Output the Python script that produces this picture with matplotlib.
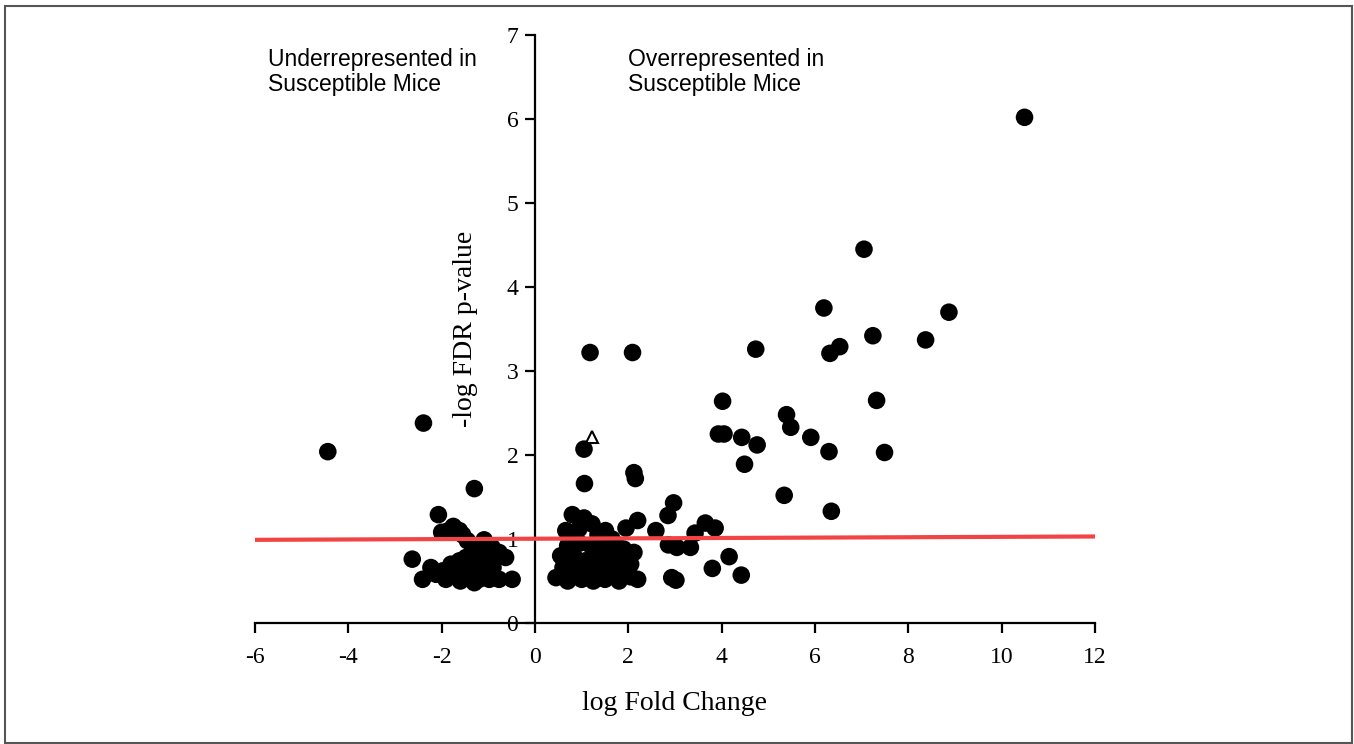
import matplotlib
matplotlib.use("Agg")
import matplotlib.pyplot as plt
from matplotlib.patches import Rectangle

plt.rcParams['axes.unicode_minus'] = False

# ---- data ----
fold_left = [-4.44, -2.39, -1.30, -2.07, -2.00, -1.85, -1.75, -1.62, -1.55, -1.45,
             -1.09, -1.20, -2.63, -0.63, -0.92, -0.77, -2.41, -2.23, -2.12, -1.98,
             -1.91, -1.80, -1.70, -1.62, -1.48, -1.50, -1.35, -1.38, -1.30, -1.22,
             -1.13, -1.05, -0.98, -0.90, -0.77, -0.49, -1.60, -1.20]
pval_left = [2.04, 2.38, 1.60, 1.29, 1.08, 1.10, 1.15, 1.10, 1.05, 0.98,
             0.99, 0.92, 0.76, 0.78, 0.90, 0.84, 0.52, 0.66, 0.58, 0.62,
             0.52, 0.70, 0.58, 0.74, 0.78, 0.54, 0.84, 0.64, 0.48, 0.70,
             0.58, 0.76, 0.52, 0.66, 0.52, 0.52, 0.50, 0.52]

fold_near = [1.05, 1.06, 2.12, 2.15, 0.80, 1.05, 1.22, 0.66, 0.94, 0.80,
             1.51, 1.95, 2.20, 2.59, 1.35, 1.65, 0.70, 0.95, 1.20, 1.45,
             1.75, 1.90, 2.12, 0.55, 0.85, 1.08, 1.32, 1.60, 1.85, 2.05,
             0.60, 0.90, 1.15, 1.40, 1.70, 1.95, 0.45, 0.70, 1.00, 1.25,
             1.50, 1.80, 2.05, 2.20, 0.75, 1.18, 2.09]
pval_near = [2.07, 1.66, 1.79, 1.72, 1.29, 1.25, 1.18, 1.10, 1.12, 1.06,
             1.10, 1.13, 1.22, 1.10, 1.05, 1.00, 0.92, 0.95, 0.92, 0.90,
             0.92, 0.88, 0.84, 0.80, 0.78, 0.74, 0.82, 0.76, 0.74, 0.70,
             0.66, 0.64, 0.62, 0.66, 0.62, 0.60, 0.54, 0.50, 0.52, 0.50,
             0.52, 0.50, 0.55, 0.52, 0.58, 3.22, 3.22]

fold_mid = [2.97, 2.85, 3.65, 3.86, 3.43, 2.86, 3.04, 3.33, 4.16, 3.80,
            4.42, 2.93, 3.02, 4.02, 3.93, 4.05, 4.43, 4.76, 4.49, 4.73]
pval_mid = [1.43, 1.28, 1.19, 1.13, 1.07, 0.93, 0.90, 0.90, 0.79, 0.65,
            0.57, 0.54, 0.51, 2.64, 2.25, 2.25, 2.21, 2.12, 1.89, 3.26]

fold_high = [5.34, 5.39, 5.48, 5.91, 6.30, 6.35, 6.19, 6.32, 6.53, 7.05,
             7.24, 7.32, 7.49, 8.37, 8.87, 10.49]
pval_high = [1.52, 2.48, 2.33, 2.21, 2.04, 1.33, 3.75, 3.21, 3.29, 4.45,
             3.42, 2.65, 2.03, 3.37, 3.70, 6.02]

triangle_fold = [1.22]
triangle_pval = [2.21]

threshold_x = [-6, 12]
threshold_y = [0.99, 1.03]

xticks = [-6, -4, -2, 0, 2, 4, 6, 8, 10, 12]
yticks = [0, 1, 2, 3, 4, 5, 6, 7]

# ---- figure ----
fig = plt.figure(figsize=(13.54, 7.44), dpi=100)
fig.patches.append(Rectangle((5 / 1354, 1 / 744), 1347 / 1354, 737 / 744,
                             transform=fig.transFigure, fill=False,
                             edgecolor='#555555', linewidth=1.5))
ax = fig.add_axes([255 / 1354, (744 - 623) / 744, 840 / 1354, 588 / 744])

xs = fold_left + fold_near + fold_mid + fold_high
ys = pval_left + pval_near + pval_mid + pval_high
ax.scatter(xs, ys, s=160, c='black', edgecolors='none', zorder=3)
ax.plot(triangle_fold, triangle_pval, marker='^', markersize=9,
        markerfacecolor='white', markeredgecolor='black', markeredgewidth=1.5,
        linestyle='none', zorder=4)
ax.plot(threshold_x, threshold_y, color='#f24444', linewidth=3, zorder=5,
        solid_capstyle='butt')

ax.set_xlim(-6, 12)
ax.set_ylim(0, 7)
ax.spines['top'].set_visible(False)
ax.spines['right'].set_visible(False)
ax.spines['left'].set_position(('data', 0))
ax.spines['left'].set_linewidth(1.6)
ax.spines['bottom'].set_linewidth(1.6)

serif = 'Liberation Serif'
sans = 'Liberation Sans'
ax.set_xticks(xticks)
ax.set_xticklabels([str(t) for t in xticks], fontfamily=serif, fontsize=17)
ax.set_yticks(yticks)
ax.set_yticklabels([str(t) for t in yticks], fontfamily=serif, fontsize=17)
ax.tick_params(axis='x', direction='out', length=7, width=1.6, pad=10)
ax.tick_params(axis='y', direction='out', length=7, width=1.6, pad=5)

ax.set_xlabel('log Fold Change', fontfamily=serif, fontsize=20)
ax.xaxis.set_label_coords(0.5, -0.115)
ax.xaxis.label.set_va('top')
ax.text(-1.48, 3.5, '-log FDR p-value', rotation=90, ha='center', va='center',
        fontfamily=serif, fontsize=20)

ax.text(-5.72, 6.85, 'Underrepresented in\nSusceptible Mice', ha='left', va='top',
        fontfamily=sans, fontsize=16.5, linespacing=1.12)
ax.text(1.99, 6.85, 'Overrepresented in\nSusceptible Mice', ha='left', va='top',
        fontfamily=sans, fontsize=16.5, linespacing=1.12)

fig.savefig('out.png', dpi=100)
